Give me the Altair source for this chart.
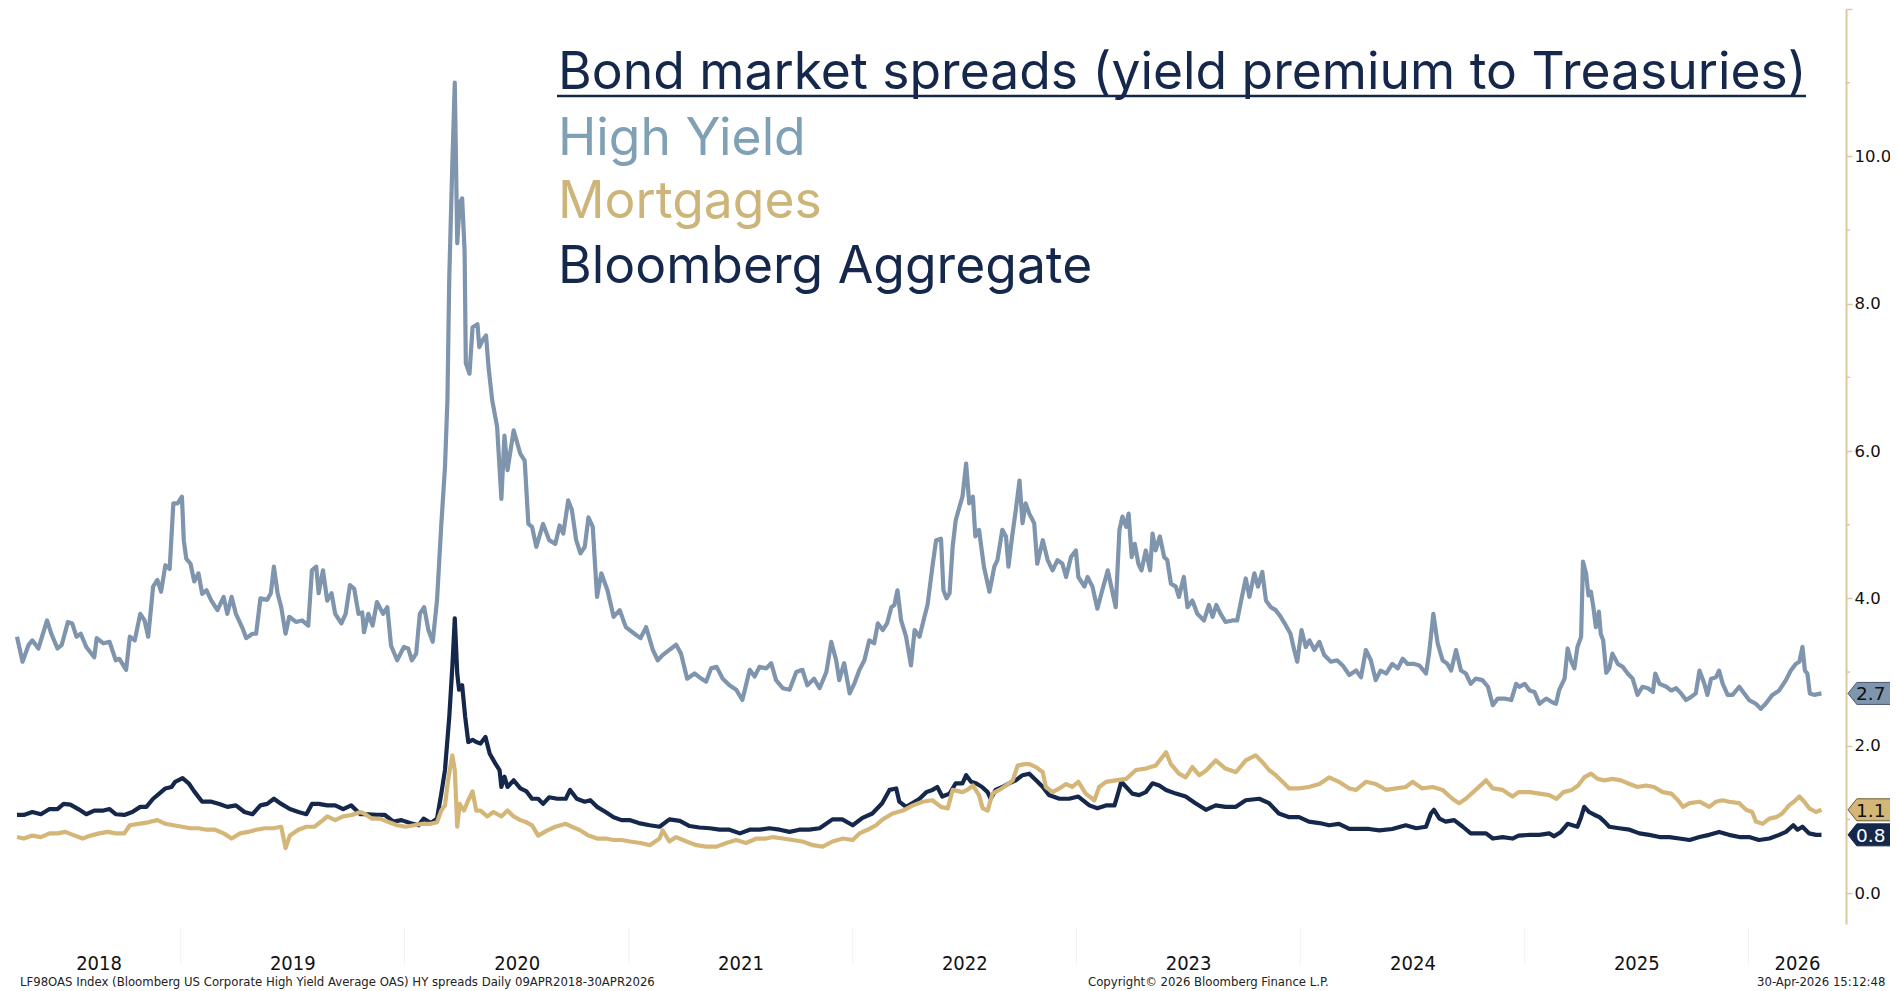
import altair as alt
import pandas as pd

# ---------------- data ----------------
HY_T = [2018.270, 2018.294, 2018.321, 2018.339, 2018.366, 2018.405, 2018.424, 2018.451, 2018.469, 2018.496,
        2018.516, 2018.535, 2018.554, 2018.580, 2018.616, 2018.627, 2018.656, 2018.683, 2018.710, 2018.728,
        2018.757, 2018.775, 2018.795, 2018.821, 2018.839, 2018.855, 2018.877, 2018.896, 2018.915, 2018.933,
        2018.951, 2018.969, 2018.987, 2019.007, 2019.016, 2019.025, 2019.045, 2019.063, 2019.080, 2019.098,
        2019.116, 2019.137, 2019.165, 2019.192, 2019.210, 2019.228, 2019.248, 2019.275, 2019.295, 2019.321,
        2019.339, 2019.357, 2019.387, 2019.405, 2019.418, 2019.433, 2019.451, 2019.469, 2019.487, 2019.517,
        2019.545, 2019.571, 2019.589, 2019.607, 2019.618, 2019.637, 2019.655, 2019.674, 2019.692, 2019.719,
        2019.739, 2019.757, 2019.776, 2019.795, 2019.813, 2019.821, 2019.839, 2019.859, 2019.878, 2019.905,
        2019.924, 2019.942, 2019.969, 2019.998, 2020.017, 2020.035, 2020.054, 2020.071, 2020.089, 2020.109,
        2020.128, 2020.146, 2020.165, 2020.183, 2020.192, 2020.201, 2020.214, 2020.226, 2020.237, 2020.246,
        2020.259, 2020.268, 2020.275, 2020.290, 2020.304, 2020.326, 2020.335, 2020.348, 2020.366, 2020.375,
        2020.393, 2020.415, 2020.433, 2020.446, 2020.460, 2020.489, 2020.517, 2020.536, 2020.554, 2020.571,
        2020.589, 2020.619, 2020.646, 2020.674, 2020.692, 2020.710, 2020.730, 2020.748, 2020.767, 2020.786,
        2020.804, 2020.821, 2020.839, 2020.859, 2020.878, 2020.906, 2020.933, 2020.960, 2020.989, 2021.027,
        2021.054, 2021.079, 2021.107, 2021.129, 2021.152, 2021.183, 2021.213, 2021.235, 2021.263, 2021.295,
        2021.325, 2021.347, 2021.369, 2021.392, 2021.420, 2021.451, 2021.481, 2021.509, 2021.540, 2021.563,
        2021.585, 2021.615, 2021.637, 2021.659, 2021.688, 2021.719, 2021.749, 2021.777, 2021.799, 2021.830,
        2021.853, 2021.883, 2021.905, 2021.927, 2021.942, 2021.964, 2021.987, 2022.009, 2022.031, 2022.054,
        2022.076, 2022.098, 2022.113, 2022.135, 2022.156, 2022.173, 2022.188, 2022.202, 2022.217, 2022.240,
        2022.262, 2022.277, 2022.299, 2022.321, 2022.336, 2022.358, 2022.374, 2022.396, 2022.406, 2022.421,
        2022.433, 2022.448, 2022.463, 2022.478, 2022.492, 2022.508, 2022.522, 2022.537, 2022.549, 2022.567,
        2022.589, 2022.612, 2022.634, 2022.649, 2022.671, 2022.686, 2022.698, 2022.713, 2022.731, 2022.746,
        2022.760, 2022.775, 2022.790, 2022.813, 2022.827, 2022.850, 2022.872, 2022.894, 2022.917, 2022.939,
        2022.954, 2022.976, 2022.999, 2023.010, 2023.036, 2023.050, 2023.073, 2023.095, 2023.117, 2023.140,
        2023.162, 2023.177, 2023.192, 2023.207, 2023.222, 2023.233, 2023.249, 2023.263, 2023.278, 2023.293,
        2023.311, 2023.329, 2023.341, 2023.356, 2023.374, 2023.393, 2023.408, 2023.423, 2023.445, 2023.460,
        2023.482, 2023.497, 2023.519, 2023.542, 2023.571, 2023.594, 2023.609, 2023.626, 2023.646, 2023.668,
        2023.698, 2023.720, 2023.735, 2023.758, 2023.775, 2023.795, 2023.813, 2023.832, 2023.847, 2023.869,
        2023.892, 2023.914, 2023.936, 2023.958, 2023.973, 2023.988, 2024.008, 2024.025, 2024.043, 2024.063,
        2024.085, 2024.107, 2024.137, 2024.166, 2024.189, 2024.219, 2024.249, 2024.271, 2024.293, 2024.316,
        2024.338, 2024.360, 2024.383, 2024.412, 2024.435, 2024.457, 2024.479, 2024.509, 2024.531, 2024.561,
        2024.576, 2024.594, 2024.613, 2024.635, 2024.658, 2024.673, 2024.695, 2024.717, 2024.740, 2024.762,
        2024.784, 2024.814, 2024.837, 2024.858, 2024.881, 2024.911, 2024.941, 2024.963, 2024.978, 2025.000,
        2025.022, 2025.045, 2025.067, 2025.097, 2025.126, 2025.141, 2025.156, 2025.179, 2025.193, 2025.209,
        2025.223, 2025.238, 2025.253, 2025.263, 2025.275, 2025.286, 2025.298, 2025.308, 2025.320, 2025.332,
        2025.342, 2025.353, 2025.365, 2025.379, 2025.394, 2025.417, 2025.439, 2025.461, 2025.484, 2025.506,
        2025.528, 2025.551, 2025.573, 2025.585, 2025.603, 2025.633, 2025.655, 2025.677, 2025.700, 2025.722,
        2025.744, 2025.767, 2025.781, 2025.804, 2025.818, 2025.834, 2025.856, 2025.871, 2025.885, 2025.907,
        2025.929, 2025.960, 2025.982, 2026.004, 2026.034, 2026.057, 2026.079, 2026.108, 2026.138, 2026.168,
        2026.191, 2026.213, 2026.228, 2026.242, 2026.253, 2026.265, 2026.276, 2026.295, 2026.328]
HY_V = [3.48, 3.14, 3.37, 3.43, 3.32, 3.70, 3.52, 3.32, 3.37, 3.68,
        3.66, 3.48, 3.52, 3.34, 3.20, 3.46, 3.39, 3.41, 3.16, 3.18,
        3.03, 3.48, 3.43, 3.79, 3.70, 3.48, 4.16, 4.25, 4.09, 4.45,
        4.40, 5.29, 5.29, 5.38, 4.79, 4.54, 4.47, 4.23, 4.34, 4.06,
        4.11, 3.97, 3.84, 4.02, 3.79, 4.02, 3.79, 3.61, 3.46, 3.52,
        3.52, 4.00, 3.98, 4.07, 4.43, 4.07, 3.88, 3.52, 3.75, 3.68,
        3.70, 3.63, 4.38, 4.43, 4.07, 4.38, 3.97, 4.07, 3.79, 3.66,
        3.79, 4.18, 4.13, 3.79, 3.81, 3.54, 3.79, 3.63, 3.95, 3.79,
        3.88, 3.36, 3.16, 3.34, 3.32, 3.16, 3.25, 3.79, 3.88, 3.57,
        3.41, 3.97, 5.00, 5.78, 6.69, 8.36, 9.90, 11.00, 8.82, 9.36,
        9.43, 8.72, 7.19, 7.05, 7.68, 7.72, 7.41, 7.50, 7.57, 7.14,
        6.69, 6.33, 5.35, 6.21, 5.74, 6.28, 5.96, 5.87, 5.01, 4.97,
        4.70, 5.01, 4.79, 4.74, 4.99, 4.88, 5.33, 5.20, 4.79, 4.61,
        4.70, 5.10, 4.97, 4.02, 4.34, 4.11, 3.75, 3.84, 3.61, 3.52,
        3.46, 3.61, 3.30, 3.16, 3.23, 3.30, 3.37, 3.25, 2.91, 2.98,
        2.91, 2.87, 3.05, 3.07, 2.91, 2.82, 2.76, 2.62, 3.03, 2.94,
        3.07, 3.05, 3.12, 2.89, 2.78, 2.76, 3.00, 3.03, 2.82, 2.91,
        2.78, 3.00, 3.41, 3.16, 2.89, 3.12, 2.71, 2.85, 3.03, 3.16,
        3.43, 3.39, 3.66, 3.57, 3.66, 3.88, 3.91, 4.11, 3.70, 3.48,
        3.09, 3.57, 3.48, 3.75, 3.91, 4.43, 4.79, 4.81, 4.11, 4.00,
        4.07, 4.70, 5.06, 5.24, 5.38, 5.83, 5.29, 5.38, 4.84, 4.93,
        4.43, 4.09, 4.43, 4.52, 4.93, 4.84, 4.43, 4.84, 5.20, 5.60,
        5.02, 5.29, 5.15, 5.02, 4.47, 4.79, 4.52, 4.38, 4.52, 4.47,
        4.29, 4.56, 4.65, 4.29, 4.16, 4.29, 4.16, 3.86, 4.11, 4.38,
        4.07, 3.88, 4.93, 5.11, 4.97, 5.15, 4.56, 4.74, 4.47, 4.38,
        4.65, 4.38, 4.88, 4.65, 4.84, 4.56, 4.52, 4.20, 4.16, 4.02,
        4.29, 3.88, 3.97, 3.79, 3.70, 3.91, 3.75, 3.91, 3.79, 3.68,
        3.70, 3.70, 3.95, 4.27, 4.02, 4.34, 4.16, 4.36, 3.97, 3.88,
        3.84, 3.75, 3.64, 3.52, 3.30, 3.14, 3.57, 3.34, 3.43, 3.30,
        3.41, 3.23, 3.14, 3.16, 3.09, 2.96, 3.02, 2.93, 3.30, 3.16,
        2.89, 3.02, 2.98, 3.11, 3.05, 3.18, 3.11, 3.11, 3.09, 2.98,
        3.25, 3.79, 3.39, 3.16, 3.11, 3.02, 3.30, 3.02, 2.98, 2.84,
        2.91, 2.89, 2.80, 2.55, 2.64, 2.64, 2.62, 2.84, 2.80, 2.84,
        2.75, 2.73, 2.57, 2.64, 2.59, 2.57, 2.75, 2.91, 3.32, 3.14,
        3.05, 3.34, 3.48, 4.50, 4.34, 4.04, 4.09, 3.88, 3.61, 3.82,
        3.52, 3.43, 2.99, 3.05, 3.25, 3.11, 3.07, 2.98, 2.91, 2.69,
        2.80, 2.78, 2.73, 2.98, 2.84, 2.80, 2.75, 2.78, 2.71, 2.62,
        2.66, 2.71, 3.02, 2.84, 2.69, 2.91, 2.93, 3.02, 2.84, 2.69,
        2.69, 2.80, 2.71, 2.62, 2.57, 2.50, 2.57, 2.69, 2.75, 2.89,
        3.02, 3.11, 3.14, 3.34, 3.02, 2.98, 2.71, 2.69, 2.71]

AGG_T = [2018.270, 2018.299, 2018.339, 2018.377, 2018.415, 2018.451, 2018.478, 2018.507, 2018.545, 2018.580,
         2018.616, 2018.656, 2018.683, 2018.710, 2018.748, 2018.786, 2018.821, 2018.848, 2018.877, 2018.906,
         2018.933, 2018.960, 2018.978, 2019.009, 2019.036, 2019.063, 2019.098, 2019.137, 2019.174, 2019.210,
         2019.248, 2019.286, 2019.321, 2019.357, 2019.387, 2019.418, 2019.451, 2019.489, 2019.527, 2019.563,
         2019.589, 2019.618, 2019.656, 2019.692, 2019.728, 2019.763, 2019.804, 2019.839, 2019.878, 2019.913,
         2019.951, 2019.987, 2020.026, 2020.063, 2020.085, 2020.118, 2020.146, 2020.165, 2020.183, 2020.201,
         2020.214, 2020.226, 2020.235, 2020.245, 2020.258, 2020.271, 2020.286, 2020.304, 2020.321, 2020.339,
         2020.362, 2020.382, 2020.406, 2020.424, 2020.433, 2020.446, 2020.460, 2020.489, 2020.517, 2020.545,
         2020.571, 2020.598, 2020.619, 2020.647, 2020.683, 2020.719, 2020.739, 2020.768, 2020.804, 2020.830,
         2020.859, 2020.897, 2020.933, 2020.969, 2021.004, 2021.045, 2021.094, 2021.138, 2021.183, 2021.228,
         2021.272, 2021.317, 2021.362, 2021.406, 2021.451, 2021.496, 2021.540, 2021.585, 2021.629, 2021.674,
         2021.719, 2021.763, 2021.808, 2021.853, 2021.911, 2021.955, 2022.000, 2022.045, 2022.089, 2022.134,
         2022.165, 2022.195, 2022.210, 2022.240, 2022.268, 2022.299, 2022.329, 2022.357, 2022.379, 2022.402,
         2022.433, 2022.463, 2022.492, 2022.508, 2022.530, 2022.552, 2022.580, 2022.604, 2022.619, 2022.641,
         2022.671, 2022.701, 2022.731, 2022.760, 2022.790, 2022.820, 2022.850, 2022.879, 2022.924, 2022.969,
         2023.010, 2023.058, 2023.095, 2023.133, 2023.170, 2023.185, 2023.200, 2023.222, 2023.251, 2023.281,
         2023.311, 2023.341, 2023.371, 2023.400, 2023.445, 2023.490, 2023.534, 2023.579, 2023.624, 2023.668,
         2023.713, 2023.758, 2023.817, 2023.862, 2023.906, 2023.951, 2023.996, 2024.040, 2024.085, 2024.129,
         2024.174, 2024.219, 2024.263, 2024.308, 2024.353, 2024.412, 2024.472, 2024.517, 2024.561, 2024.583,
         2024.598, 2024.621, 2024.650, 2024.688, 2024.725, 2024.762, 2024.799, 2024.829, 2024.858, 2024.903,
         2024.948, 2024.975, 2025.022, 2025.067, 2025.112, 2025.134, 2025.164, 2025.193, 2025.216, 2025.238,
         2025.253, 2025.268, 2025.290, 2025.313, 2025.335, 2025.357, 2025.379, 2025.424, 2025.469, 2025.513,
         2025.558, 2025.603, 2025.647, 2025.692, 2025.737, 2025.781, 2025.826, 2025.871, 2025.915, 2025.960,
         2026.004, 2026.049, 2026.094, 2026.138, 2026.168, 2026.201, 2026.221, 2026.242, 2026.272, 2026.302,
         2026.328]
AGG_V = [1.06, 1.06, 1.10, 1.07, 1.14, 1.14, 1.21, 1.20, 1.14, 1.07,
         1.12, 1.12, 1.14, 1.07, 1.06, 1.10, 1.17, 1.17, 1.28, 1.35,
         1.42, 1.44, 1.51, 1.56, 1.49, 1.38, 1.24, 1.24, 1.21, 1.17,
         1.19, 1.10, 1.07, 1.19, 1.21, 1.28, 1.21, 1.14, 1.10, 1.07,
         1.21, 1.21, 1.19, 1.19, 1.14, 1.19, 1.07, 1.07, 1.06, 1.06,
         0.97, 0.99, 0.95, 0.92, 1.01, 0.95, 1.01, 1.35, 1.67, 2.39,
         3.07, 3.73, 2.98, 2.76, 2.82, 2.39, 2.05, 2.08, 2.05, 2.03,
         2.12, 1.89, 1.76, 1.67, 1.44, 1.58, 1.44, 1.53, 1.42, 1.38,
         1.28, 1.28, 1.21, 1.30, 1.28, 1.28, 1.40, 1.28, 1.24, 1.26,
         1.17, 1.10, 1.03, 0.99, 0.99, 0.95, 0.92, 0.90, 1.00, 0.98,
         0.91, 0.89, 0.88, 0.86, 0.86, 0.81, 0.86, 0.86, 0.88, 0.86,
         0.83, 0.86, 0.86, 0.88, 1.00, 1.00, 0.92, 1.02, 1.08, 1.22,
         1.40, 1.42, 1.24, 1.17, 1.22, 1.28, 1.37, 1.40, 1.44, 1.31,
         1.35, 1.49, 1.49, 1.60, 1.51, 1.49, 1.44, 1.37, 1.28, 1.40,
         1.44, 1.49, 1.53, 1.60, 1.62, 1.53, 1.44, 1.33, 1.28, 1.28,
         1.31, 1.19, 1.15, 1.19, 1.19, 1.33, 1.51, 1.44, 1.35, 1.33,
         1.37, 1.49, 1.46, 1.40, 1.35, 1.31, 1.22, 1.13, 1.19, 1.17,
         1.17, 1.26, 1.28, 1.22, 1.08, 1.03, 1.03, 0.97, 0.95, 0.92,
         0.94, 0.87, 0.87, 0.87, 0.85, 0.87, 0.92, 0.88, 0.90, 1.08,
         1.13, 1.01, 0.97, 0.99, 0.90, 0.81, 0.81, 0.81, 0.74, 0.76,
         0.74, 0.78, 0.79, 0.79, 0.81, 0.77, 0.83, 0.94, 0.92, 0.90,
         1.03, 1.17, 1.10, 1.06, 1.03, 0.97, 0.90, 0.88, 0.86, 0.81,
         0.79, 0.76, 0.76, 0.74, 0.72, 0.76, 0.79, 0.83, 0.79, 0.76,
         0.76, 0.72, 0.74, 0.79, 0.83, 0.92, 0.86, 0.90, 0.81, 0.79,
         0.79]

MTG_T = [2018.270, 2018.299, 2018.339, 2018.377, 2018.415, 2018.451, 2018.487, 2018.527, 2018.562, 2018.598,
         2018.637, 2018.674, 2018.710, 2018.748, 2018.775, 2018.813, 2018.857, 2018.896, 2018.933, 2018.969,
         2019.007, 2019.045, 2019.080, 2019.116, 2019.154, 2019.192, 2019.228, 2019.267, 2019.304, 2019.339,
         2019.378, 2019.415, 2019.451, 2019.469, 2019.489, 2019.527, 2019.563, 2019.598, 2019.637, 2019.656,
         2019.692, 2019.728, 2019.767, 2019.804, 2019.821, 2019.857, 2019.893, 2019.933, 2019.969, 2020.007,
         2020.045, 2020.080, 2020.118, 2020.146, 2020.165, 2020.183, 2020.196, 2020.214, 2020.226, 2020.235,
         2020.248, 2020.267, 2020.286, 2020.304, 2020.321, 2020.339, 2020.369, 2020.397, 2020.433, 2020.460,
         2020.489, 2020.517, 2020.545, 2020.571, 2020.598, 2020.637, 2020.674, 2020.719, 2020.748, 2020.786,
         2020.821, 2020.859, 2020.897, 2020.933, 2020.969, 2021.008, 2021.054, 2021.094, 2021.138, 2021.153,
         2021.183, 2021.213, 2021.258, 2021.302, 2021.347, 2021.392, 2021.436, 2021.481, 2021.526, 2021.570,
         2021.615, 2021.644, 2021.689, 2021.734, 2021.778, 2021.823, 2021.867, 2021.912, 2021.957, 2022.001,
         2022.031, 2022.076, 2022.106, 2022.135, 2022.180, 2022.225, 2022.269, 2022.314, 2022.358, 2022.396,
         2022.425, 2022.448, 2022.492, 2022.515, 2022.537, 2022.567, 2022.582, 2022.604, 2022.626, 2022.656,
         2022.686, 2022.716, 2022.738, 2022.768, 2022.790, 2022.820, 2022.850, 2022.865, 2022.894, 2022.924,
         2022.954, 2022.983, 2023.010, 2023.043, 2023.080, 2023.103, 2023.133, 2023.177, 2023.222, 2023.267,
         2023.311, 2023.356, 2023.400, 2023.423, 2023.460, 2023.490, 2023.519, 2023.549, 2023.579, 2023.624,
         2023.668, 2023.713, 2023.758, 2023.802, 2023.832, 2023.862, 2023.892, 2023.921, 2023.951, 2023.996,
         2024.040, 2024.085, 2024.129, 2024.174, 2024.219, 2024.249, 2024.293, 2024.338, 2024.383, 2024.427,
         2024.472, 2024.501, 2024.546, 2024.591, 2024.635, 2024.680, 2024.710, 2024.740, 2024.784, 2024.829,
         2024.858, 2024.903, 2024.948, 2024.975, 2025.022, 2025.067, 2025.112, 2025.144, 2025.174, 2025.211,
         2025.241, 2025.268, 2025.298, 2025.327, 2025.357, 2025.394, 2025.432, 2025.469, 2025.506, 2025.543,
         2025.580, 2025.618, 2025.655, 2025.685, 2025.707, 2025.737, 2025.781, 2025.826, 2025.856, 2025.885,
         2025.915, 2025.960, 2025.990, 2026.019, 2026.034, 2026.064, 2026.094, 2026.124, 2026.153, 2026.183,
         2026.205, 2026.228, 2026.250, 2026.272, 2026.302, 2026.328]
MTG_V = [0.76, 0.74, 0.78, 0.76, 0.81, 0.81, 0.83, 0.78, 0.74, 0.78,
         0.81, 0.83, 0.81, 0.81, 0.92, 0.94, 0.96, 0.99, 0.94, 0.92,
         0.90, 0.88, 0.88, 0.86, 0.86, 0.81, 0.74, 0.81, 0.83, 0.86,
         0.88, 0.88, 0.90, 0.61, 0.78, 0.86, 0.90, 0.90, 0.99, 1.04,
         0.99, 1.04, 1.06, 1.10, 1.08, 1.01, 1.01, 0.96, 0.92, 0.90,
         0.92, 0.94, 0.94, 0.96, 1.12, 1.19, 1.53, 1.87, 1.67, 0.90,
         1.21, 1.12, 1.26, 1.38, 1.12, 1.12, 1.04, 1.10, 1.04, 1.12,
         1.04, 0.99, 0.96, 0.92, 0.78, 0.85, 0.90, 0.94, 0.90, 0.85,
         0.78, 0.74, 0.74, 0.72, 0.72, 0.70, 0.68, 0.65, 0.74, 0.85,
         0.70, 0.76, 0.70, 0.65, 0.63, 0.63, 0.68, 0.72, 0.68, 0.74,
         0.74, 0.76, 0.74, 0.72, 0.70, 0.65, 0.63, 0.70, 0.74, 0.72,
         0.81, 0.87, 0.92, 1.00, 1.08, 1.12, 1.19, 1.24, 1.26, 1.17,
         1.15, 1.40, 1.37, 1.40, 1.46, 1.33, 1.15, 1.12, 1.35, 1.40,
         1.46, 1.53, 1.73, 1.75, 1.75, 1.71, 1.64, 1.44, 1.37, 1.42,
         1.48, 1.44, 1.51, 1.35, 1.26, 1.44, 1.51, 1.53, 1.55, 1.67,
         1.69, 1.73, 1.91, 1.75, 1.62, 1.57, 1.71, 1.60, 1.66, 1.80,
         1.69, 1.64, 1.80, 1.87, 1.78, 1.67, 1.60, 1.51, 1.42, 1.42,
         1.44, 1.48, 1.57, 1.51, 1.42, 1.40, 1.51, 1.48, 1.40, 1.42,
         1.44, 1.51, 1.42, 1.44, 1.40, 1.28, 1.22, 1.28, 1.40, 1.53,
         1.42, 1.40, 1.31, 1.37, 1.37, 1.35, 1.33, 1.28, 1.37, 1.40,
         1.46, 1.57, 1.62, 1.55, 1.53, 1.55, 1.53, 1.48, 1.44, 1.46,
         1.44, 1.37, 1.35, 1.26, 1.17, 1.22, 1.24, 1.17, 1.24, 1.26,
         1.24, 1.22, 1.13, 1.10, 0.97, 0.94, 1.01, 1.03, 1.08, 1.19,
         1.24, 1.31, 1.24, 1.15, 1.10, 1.13]

SERIES = ["High Yield", "Mortgages", "Bloomberg Aggregate"]
TITLE = "Bond market spreads (yield premium to Treasuries)"
X_START, X_END = "2018-04-09", "2026-06-09"
YEAR_LABEL_AT = ["2018-08-20", "2019-07-02", "2020-07-02", "2021-07-02", "2022-07-02",
                 "2023-07-02", "2024-07-02", "2025-07-02", "2026-03-21"]
YEAR_STARTS = ["2019-01-01", "2020-01-01", "2021-01-01", "2022-01-01", "2023-01-01",
               "2024-01-01", "2025-01-01", "2026-01-01"]
Y_MAJOR = [0, 2, 4, 6, 8, 10, 12]
Y_MINOR = [1, 3, 5, 7, 9, 11]
FOOT_LEFT = "LF98OAS Index (Bloomberg US Corporate High Yield Average OAS) HY spreads Daily 09APR2018-30APR2026"
FOOT_MID = "Copyright\u00a9 2026 Bloomberg Finance L.P."
FOOT_RIGHT = "30-Apr-2026 15:12:48"

# ---------------- styles ----------------
NAVY = "#15284b"
HY_C = "#7f94ad"
MTG_C = "#d3b678"
TAN_AXIS = "#dcc9a0"
W, H = 1829, 915
TITLE_FONT = "Inter"
TICK_FONT = "DejaVu Sans"
NARROW_FONT = "DejaVu Sans Condensed, Liberation Sans Narrow, Roboto Condensed, sans-serif"


def to_date(t):
    y = int(t)
    a = pd.Timestamp(year=y, month=1, day=1)
    b = pd.Timestamp(year=y + 1, month=1, day=1)
    return (a + (b - a) * (t - y)).strftime("%Y-%m-%d")


def dt(s):
    d = pd.Timestamp(s)
    return alt.DateTime(year=d.year, month=d.month, date=d.day, utc=True)


xscale = alt.Scale(type="utc", domain=[dt(X_START), dt(X_END)], nice=False)
yscale = alt.Scale(domain=[-0.42, 12], nice=False, zero=False)
xaxis = alt.Axis(values=[dt(s) for s in YEAR_LABEL_AT], format="%Y", title=None, grid=False,
                 ticks=False, domain=False, labelFont=NARROW_FONT, labelFontSize=20,
                 labelColor="#111111", labelPadding=29, labelOverlap=False, labelFlush=False,
                 labelBound=False)
yaxis = alt.Axis(orient="right", values=Y_MAJOR, title=None, grid=False,
                 labelExpr="datum.value == 12 ? '' : format(datum.value, '.1f')",
                 tickSize=6, tickColor=TAN_AXIS, tickWidth=1.5, domainColor=TAN_AXIS, domainWidth=2,
                 labelFont=TICK_FONT, labelFontSize=16.5, labelColor="#111111", labelPadding=2,
                 labelOverlap=False, labelFlush=False, labelBound=False)

X = lambda f: alt.X(f, type="temporal", scale=xscale, axis=xaxis)
Y = lambda f: alt.Y(f, type="quantitative", scale=yscale, axis=yaxis)


def series_df(ts, vs):
    return pd.DataFrame({"date": [to_date(t) for t in ts], "value": vs})


hy = series_df(HY_T, HY_V)
agg = series_df(AGG_T, AGG_V)
mtg = series_df(MTG_T, MTG_V)

layers = []

# faint year separators below the plot
sep = alt.Chart(pd.DataFrame({"d": YEAR_STARTS})).mark_rule(color="#f2f2f2", strokeWidth=1).encode(
    x=X("d"), y=alt.value(H + 4), y2=alt.value(H + 40))
layers.append(sep)

# minor ticks on the right axis
minor = alt.Chart(pd.DataFrame({"v": Y_MINOR})).mark_rule(color=TAN_AXIS, strokeWidth=1.5).encode(
    y=Y("v"), x=alt.value(W), x2=alt.value(W + 4))
layers.append(minor)

for df, col in [(hy, HY_C), (agg, NAVY), (mtg, MTG_C)]:
    layers.append(alt.Chart(df).mark_line(color=col, strokeWidth=4.2, strokeJoin="round").encode(
        x=X("date"), y=Y("value")))

# last-value tags on the axis
TAG_PATH = "M0,0L0.8,-1L7,-1L7,1L0.8,1Z"
for df, fill, txt, stroke in [(hy, HY_C, "#111111", "#4b5a6e"), (mtg, MTG_C, "#111111", "#6b5a35"),
                              (agg, NAVY, "#ffffff", NAVY)]:
    last = df.tail(1)
    layers.append(alt.Chart(last).mark_point(shape=TAG_PATH, filled=True, size=484, fill=fill,
                                             stroke=stroke, strokeWidth=1, opacity=1).encode(
        y=Y("value"), x=alt.value(W + 2)))
    layers.append(alt.Chart(last).mark_text(align="left", baseline="middle", font=TICK_FONT,
                                            fontSize=18.5, color=txt, dy=1).encode(
        y=Y("value"), x=alt.value(W + 10), text=alt.Text("value:Q", format=".1f")))

# title block
TX = 541
one = pd.DataFrame({"a": [0]})
title_specs = [(TITLE, NAVY, 80), (SERIES[0], "#7fa0b5", 146), (SERIES[1], "#cdb57a", 209),
               (SERIES[2], NAVY, 274)]
for text, col, yy in title_specs:
    layers.append(alt.Chart(one).mark_text(text=text, align="left", baseline="alphabetic",
                                           font=TITLE_FONT, fontSize=51.6, color=col).encode(
        x=alt.value(TX), y=alt.value(yy)))
layers.append(alt.Chart(one).mark_rule(color=NAVY, strokeWidth=2.5).encode(
    x=alt.value(540), x2=alt.value(540 + 1249), y=alt.value(87)))

# footer
for text, xx in [(FOOT_LEFT, 3), (FOOT_MID, 1071), (FOOT_RIGHT, 1740)]:
    layers.append(alt.Chart(one).mark_text(text=text, align="left", baseline="alphabetic",
                                           font=NARROW_FONT, fontSize=13, color="#222222").encode(
        x=alt.value(xx), y=alt.value(977)))

chart = alt.layer(*layers).properties(
    width=W, height=H,
    autosize=alt.AutoSizeParams(type="none"),
    padding={"left": 9, "top": 1, "right": 44, "bottom": 67},
    background="white",
).configure_view(stroke=None)

chart.save("out.html", embed_options={"renderer": "svg", "actions": False})
